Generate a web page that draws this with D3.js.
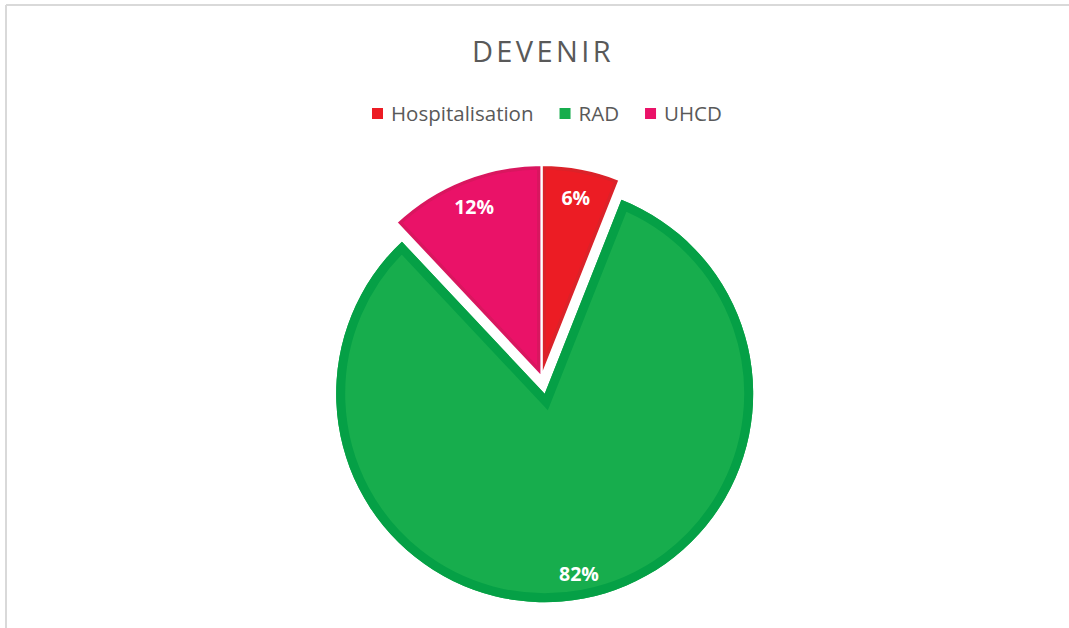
<!DOCTYPE html>
<html>
<head>
<meta charset="utf-8">
<script src="https://cdn.jsdelivr.net/npm/d3@7"></script>
<style>
  html, body { margin: 0; padding: 0; background: #ffffff; }
  svg { display: block; }
</style>
</head>
<body>
<svg id="chart" width="1069" height="628"></svg>
<script>
// ---- data ----
const title = "DEVENIR";
const categories = ["Hospitalisation", "RAD", "UHCD"];
const values = [6, 82, 12];
const valueLabels = ["6%", "82%", "12%"];

// ---- styles ----
const fillColors = ["#EC1C24", "#17AD4D", "#EA1268"];
const bandColors = ["#DB2229", "#05A046", "#D9165F"];
const explode = [0, 17, 0];
const radii = [212, 208.5, 212];

const W = 1069, H = 628;
const svg = d3.select("#chart");
const FONT = "'Open Sans', 'Segoe UI', sans-serif";

// frame (top and left edges visible)
svg.append("line").attr("x1", 6).attr("y1", 5).attr("x2", W).attr("y2", 5)
  .attr("stroke", "#d9d9d9").attr("stroke-width", 2);
svg.append("line").attr("x1", 6).attr("y1", 5).attr("x2", 6).attr("y2", H)
  .attr("stroke", "#d9d9d9").attr("stroke-width", 2);

// title
svg.append("text")
  .attr("x", 543).attr("y", 62)
  .attr("text-anchor", "middle")
  .attr("font-family", FONT)
  .attr("font-size", 29)
  .attr("letter-spacing", 3.4)
  .attr("fill", "#595959")
  .text(title);

// legend
const legend = svg.append("g");
let lx = 372;
const sq = 11;
categories.forEach((c, i) => {
  legend.append("rect")
    .attr("x", lx).attr("y", 108).attr("width", sq).attr("height", sq)
    .attr("fill", fillColors[i]);
  const t = legend.append("text")
    .attr("x", lx + sq + 8).attr("y", 120.5)
    .attr("font-family", FONT)
    .attr("font-size", 20.5)
    .attr("fill", "#595959")
    .text(c);
  const tw = t.node().getComputedTextLength();
  lx = lx + sq + 8 + tw + 26;
});

// pie
const cx = 541.5, cy = 377;
const pie = d3.pie().sort(null).value(d => d).startAngle(0).endAngle(2 * Math.PI);
const arcsData = pie(values);
const defs = svg.append("defs");
const drawOrder = [0, 2, 1];

drawOrder.forEach(i => {
  const a = arcsData[i];
  const mid = (a.startAngle + a.endAngle) / 2;
  const ox = cx + explode[i] * Math.sin(mid);
  const oy = cy - explode[i] * Math.cos(mid);
  const arc = d3.arc().innerRadius(0).outerRadius(radii[i]);
  const g = svg.append("g").attr("transform", `translate(${ox},${oy})`);
  const pathD = arc(a);
  defs.append("clipPath").attr("id", "clip" + i)
    .append("path").attr("d", pathD);
  g.append("path").attr("d", pathD).attr("fill", fillColors[i]);
  g.append("path").attr("d", pathD)
    .attr("fill", "none")
    .attr("stroke", bandColors[i])
    .attr("stroke-width", i === 1 ? 18 : 9)
    .attr("stroke-linejoin", "miter")
    .attr("stroke-miterlimit", 20)
    .attr("clip-path", `url(#clip${i})`);
  if (i !== 1) {
    g.append("path").attr("d", pathD)
      .attr("fill", "none")
      .attr("stroke", "#ffffff")
      .attr("stroke-width", 2.2)
      .attr("stroke-linejoin", "miter");
  }
});

// labels
arcsData.forEach((a, i) => {
  const mid = (a.startAngle + a.endAngle) / 2;
  const ox = cx + explode[i] * Math.sin(mid);
  const oy = cy - explode[i] * Math.cos(mid);
  const la = d3.arc().innerRadius(183).outerRadius(183);
  const [x, y] = la.centroid(a);
  svg.append("text")
    .attr("x", ox + x).attr("y", oy + y)
    .attr("text-anchor", "middle")
    .attr("dominant-baseline", "central")
    .attr("font-family", FONT)
    .attr("font-weight", "bold")
    .attr("font-size", 19.5)
    .attr("fill", "#ffffff")
    .text(valueLabels[i]);
});
</script>
</body>
</html>
